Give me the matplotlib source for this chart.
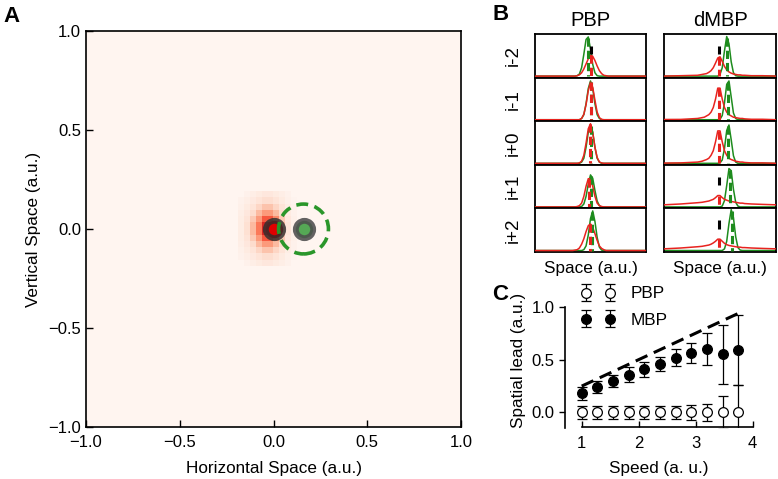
import numpy as np
import matplotlib
matplotlib.use('Agg')
import matplotlib.pyplot as plt
from matplotlib.patches import Ellipse

plt.rcParams['font.family'] = ['Liberation Sans', 'DejaVu Sans']
plt.rcParams['font.size'] = 12

# ---------------- data: panel A ----------------
heat_block = [
    [0.00, 0.02, 0.04, 0.06, 0.08, 0.08, 0.06, 0.04, 0.02, 0.00],
    [0.02, 0.04, 0.07, 0.10, 0.13, 0.13, 0.10, 0.06, 0.03, 0.01],
    [0.03, 0.06, 0.10, 0.16, 0.22, 0.22, 0.16, 0.10, 0.05, 0.02],
    [0.04, 0.08, 0.14, 0.25, 0.35, 0.35, 0.25, 0.14, 0.06, 0.02],
    [0.05, 0.10, 0.20, 0.35, 0.55, 0.55, 0.40, 0.20, 0.08, 0.03],
    [0.05, 0.12, 0.25, 0.45, 0.70, 0.75, 0.55, 0.25, 0.10, 0.03],
    [0.05, 0.12, 0.25, 0.45, 0.70, 0.75, 0.55, 0.25, 0.10, 0.03],
    [0.05, 0.10, 0.20, 0.35, 0.55, 0.55, 0.40, 0.20, 0.08, 0.03],
    [0.04, 0.08, 0.14, 0.25, 0.35, 0.35, 0.25, 0.14, 0.06, 0.02],
    [0.03, 0.06, 0.10, 0.16, 0.22, 0.22, 0.16, 0.10, 0.05, 0.02],
    [0.02, 0.04, 0.07, 0.10, 0.13, 0.13, 0.10, 0.06, 0.03, 0.01],
    [0.00, 0.02, 0.04, 0.06, 0.08, 0.08, 0.06, 0.04, 0.02, 0.00],
]
heat_cells = 64
red_pos = (0.0, 0.0)
green_pos = (0.16, 0.0)
green_radius = 0.133
a_ticks = [-1.0, -0.5, 0.0, 0.5, 1.0]

# ---------------- data: panel B ----------------
rows = ['i-2', 'i-1', 'i+0', 'i+1', 'i+2']
space = [0.00, 0.15, 0.30, 0.34, 0.36, 0.38, 0.40, 0.42, 0.44, 0.46, 0.48, 0.50, 0.52,
         0.54, 0.56, 0.58, 0.60, 0.62, 0.64, 0.66, 0.68, 0.70, 0.72, 0.78, 0.88, 1.00]
pbp_green = [
    [0, 0, 0, 0, 0, .01, .05, .20, .52, .87, .93, .64, .28, .08, .01, 0, 0, 0, 0, 0, 0, 0, 0, 0, 0, 0],
    [0, 0, 0, 0, 0, 0, 0, .03, .12, .38, .74, .92, .74, .38, .12, .03, 0, 0, 0, 0, 0, 0, 0, 0, 0, 0],
    [0, 0, 0, 0, 0, 0, 0, .03, .12, .38, .74, .92, .74, .38, .12, .03, 0, 0, 0, 0, 0, 0, 0, 0, 0, 0],
    [0, 0, 0, 0, 0, 0, 0, .01, .07, .25, .54, .76, .68, .39, .14, .03, 0, 0, 0, 0, 0, 0, 0, 0, 0, 0],
    [0, 0, 0, 0, 0, 0, 0, 0, .02, .11, .37, .76, .94, .69, .31, .08, .01, 0, 0, 0, 0, 0, 0, 0, 0, 0],
]
pbp_red = [
    [0, 0, 0, 0, 0, .01, .03, .08, .17, .29, .41, .49, .47, .37, .24, .13, .06, .02, .01, 0, 0, 0, 0, 0, 0, 0],
    [0, 0, 0, 0, 0, 0, 0, .03, .13, .36, .69, .89, .77, .46, .18, .05, .01, 0, 0, 0, 0, 0, 0, 0, 0, 0],
    [0, 0, 0, 0, 0, 0, .01, .05, .19, .48, .82, .94, .73, .38, .14, .03, .01, 0, 0, 0, 0, 0, 0, 0, 0, 0],
    [0, 0, 0, 0, 0, .01, .03, .09, .25, .49, .67, .67, .49, .25, .09, .03, .01, 0, 0, 0, 0, 0, 0, 0, 0, 0],
    [0, 0, 0, 0, .01, .02, .06, .15, .28, .45, .59, .63, .55, .40, .24, .11, .05, .02, 0, 0, 0, 0, 0, 0, 0, 0],
]
dmbp_green = [
    [0, 0, 0, 0, 0, 0, 0, 0, 0, 0, 0, .04, .20, .60, .94, .77, .34, .08, .01, 0, 0, 0, 0, 0, 0, 0],
    [0, 0, 0, 0, 0, 0, 0, 0, 0, 0, 0, .01, .10, .40, .84, .92, .54, .16, .03, 0, 0, 0, 0, 0, 0, 0],
    [0, 0, 0, 0, 0, 0, 0, 0, 0, 0, 0, .01, .08, .35, .78, .91, .56, .18, .03, 0, 0, 0, 0, 0, 0, 0],
    [0, 0, 0, 0, 0, 0, 0, 0, 0, 0, 0, 0, .02, .15, .51, .91, .86, .42, .11, .02, 0, 0, 0, 0, 0, 0],
    [0, 0, 0, 0, 0, 0, 0, 0, 0, 0, 0, 0, 0, .04, .22, .64, .97, .78, .33, .07, .01, 0, 0, 0, 0, 0],
]
dmbp_red = [
    [0, .01, .02, .04, .05, .06, .09, .13, .20, .31, .43, .46, .35, .23, .15, .10, .07, .05, .04, .03, .03, .02, .02, .01, .01, 0],
    [.005, .007, .03, .05, .06, .09, .12, .18, .29, .49, .75, .75, .49, .29, .18, .12, .09, .06, .05, .04, .03, .03, .02, .01, .01, 0],
    [.005, .01, .03, .05, .07, .09, .12, .19, .30, .51, .77, .77, .51, .30, .19, .12, .09, .07, .05, .04, .03, .03, .02, .01, .01, 0],
    [.05, .07, .10, .11, .12, .13, .14, .16, .18, .22, .27, .27, .22, .18, .16, .14, .13, .12, .11, .10, .09, .09, .08, .07, .06, .05],
    [.04, .06, .09, .10, .11, .12, .13, .15, .18, .22, .27, .27, .22, .17, .14, .12, .11, .10, .09, .08, .08, .07, .07, .06, .05, .04],
]
pbp_green_peak = [0.473, 0.500, 0.500, 0.505, 0.518]
pbp_red_peak = [0.506, 0.503, 0.497, 0.490, 0.497]
dmbp_green_peak = [0.564, 0.573, 0.575, 0.588, 0.603]
dmbp_red_peak = [0.493, 0.490, 0.490, 0.493, 0.493]
pbp_true = [0.506, np.nan, np.nan, np.nan, np.nan]
dmbp_true = [0.493, np.nan, np.nan, 0.493, 0.493]

# ---------------- data: panel C ----------------
speed = [1.0, 1.275, 1.55, 1.825, 2.1, 2.375, 2.65, 2.925, 3.2, 3.475, 3.75]
mbp_lead = [0.18, 0.24, 0.30, 0.36, 0.41, 0.46, 0.52, 0.56, 0.60, 0.55, 0.595]
mbp_err = [0.065, 0.06, 0.06, 0.07, 0.07, 0.07, 0.08, 0.095, 0.15, 0.28, 0.33]
pbp_lead = [0.0, 0.0, 0.0, 0.0, 0.0, 0.0, 0.0, 0.0, 0.0, 0.0, 0.0]
pbp_err = [0.06, 0.06, 0.06, 0.06, 0.06, 0.06, 0.06, 0.075, 0.085, 0.16, 0.26]
ideal_speed = [1.0, 3.75]
ideal_lead = [0.25, 0.94]

# ---------------- layout ----------------
W, H = 778, 479
fig = plt.figure(figsize=(W / 100, H / 100), dpi=100)


def box(l, t, r, b):
    return [l / W, 1 - b / H, (r - l) / W, (b - t) / H]


def ftext(x, y, s, **kw):
    fig.text(x / W, 1 - y / H, s, **kw)


RED = '#e8231f'
GREEN = '#1e8c1e'

# ---------------- panel A ----------------
axA = fig.add_axes(box(86, 31, 461, 427))
grid = np.zeros((heat_cells, heat_cells))
blk = np.array(heat_block)
grid[26:26 + blk.shape[0], 26:26 + blk.shape[1]] = blk
axA.imshow(grid, extent=(-1, 1, -1, 1), origin='upper', cmap='Reds', vmin=0, vmax=1,
           interpolation='nearest', aspect='auto')
axA.plot([red_pos[0]], [red_pos[1]], 'o', ms=12.5, mfc='#e00000',
         mec=(0.18, 0.18, 0.18, 0.82), mew=4.2, zorder=4)
axA.plot([green_pos[0]], [green_pos[1]], 'o', ms=12.5, mfc='#55a855',
         mec=(0.3, 0.3, 0.3, 0.88), mew=4.2, zorder=4)
sx = axA.bbox.width / 2.0
sy = axA.bbox.height / 2.0
circ = Ellipse(green_pos, 2 * green_radius, 2 * green_radius * sx / sy, fill=False,
               ec='#2a962a', lw=2.6, ls=(0, (3.3, 1.8)), zorder=5)
axA.add_patch(circ)
axA.set_xlim(-1, 1)
axA.set_ylim(-1, 1)
axA.set_xticks(a_ticks)
axA.set_yticks(a_ticks)
axA.tick_params(direction='in', length=5, width=1, labelsize=12, top=False, right=False)
axA.tick_params(axis='x', pad=5.5)
for sp in axA.spines.values():
    sp.set_linewidth(1.2)
axA.set_xlabel('Horizontal Space (a.u.)', fontsize=12.3)
axA.xaxis.label.set_va('center')
axA.xaxis.set_label_coords(0.5, -(468 - 427) / 396)
axA.set_ylabel('Vertical Space (a.u.)', fontsize=12.3)
axA.yaxis.label.set_va('center')
axA.yaxis.set_label_coords(-(86 - 34) / 375, 0.5)
ftext(3, 6, 'A', fontsize=16, fontweight='bold', va='top', ha='left')

# ---------------- panel B ----------------
row_tops = [34, 77.6, 121.2, 164.8, 208.4, 252]
cols = [(535, 646, pbp_green, pbp_red, pbp_green_peak, pbp_red_peak, pbp_true, 'PBP'),
        (664, 776, dmbp_green, dmbp_red, dmbp_green_peak, dmbp_red_peak, dmbp_true, 'dMBP')]
dash = (0, (2.7, 1.3))
for ci, (l, r, gs, rs, gp, rp, tp, title) in enumerate(cols):
    for k in range(5):
        ax = fig.add_axes(box(l, row_tops[k], r, row_tops[k + 1]))
        ax.plot(space, gs[k], color=GREEN, lw=1.1, zorder=2)
        ax.plot(space, rs[k], color=RED, lw=1.1, zorder=3)
        ax.plot([gp[k], gp[k]], [max(gs[k]) * 0.97, 0], color=GREEN, lw=2.2, ls=dash,
                solid_capstyle='butt', dash_capstyle='butt', zorder=4)
        if not np.isnan(tp[k]):
            ax.plot([tp[k], tp[k]], [0.52, 0.72], color='k', lw=2.2,
                    solid_capstyle='butt', zorder=4)
        ax.plot([rp[k], rp[k]], [max(rs[k]), 0], color=RED, lw=2.2, ls=dash,
                dash_capstyle='butt', zorder=5)
        ax.set_xlim(0, 1)
        ax.set_ylim(-0.035, 1.0)
        ax.set_xticks([])
        ax.set_yticks([])
        for sp in ax.spines.values():
            sp.set_linewidth(1.3)
        if ci == 0:
            ax.set_ylabel(rows[k], fontsize=13.5)
            ax.yaxis.label.set_va('center')
            ax.yaxis.set_label_coords(-(535 - 513) / 111, 0.5)
    ftext((l + r) / 2, 21, title, fontsize=14.5, ha='center', va='center')
    ftext((l + r) / 2, 268, 'Space (a.u.)', fontsize=12.3, ha='center', va='center')
ftext(492, 4, 'B', fontsize=16, fontweight='bold', va='top', ha='left')

# ---------------- panel C ----------------
axC = fig.add_axes(box(565, 307, 752.7, 428.3))
axC.plot(ideal_speed, ideal_lead, color='k', lw=2.2, ls=(0, (4.2, 2.3)), zorder=2)
h_pbp = axC.errorbar(speed, pbp_lead, yerr=pbp_err, fmt='o', ms=7, mfc='white', mec='k',
                     mew=0.9, color='k', ecolor='k', elinewidth=0.9, capsize=3.5,
                     capthick=0.9, label='PBP', zorder=3)
h_mbp = axC.errorbar(speed, mbp_lead, yerr=mbp_err, fmt='o', ms=7, mfc='k', mec='k',
                     mew=0.9, color='k', ecolor='k', elinewidth=0.9, capsize=3.5,
                     capthick=0.9, label='MBP', zorder=3)
axC.set_xlim(0.707, 4.0)
axC.set_ylim(-0.15, 1.0)
axC.set_xticks([1, 2, 3, 4])
axC.set_yticks([0.0, 0.5, 1.0])
axC.set_yticklabels(['0.0', '0.5', '1.0'])
axC.spines['top'].set_visible(False)
axC.spines['right'].set_visible(False)
axC.spines['bottom'].set_position(('data', -0.133))
axC.spines['bottom'].set_bounds(1, 4)
for sp in axC.spines.values():
    sp.set_linewidth(1.2)
axC.tick_params(axis='x', direction='in', length=4, width=1, labelsize=12, pad=6.5)
axC.tick_params(axis='y', direction='out', length=4, width=1, labelsize=12)
axC.set_xlabel('Speed (a. u.)', fontsize=12.3)
axC.xaxis.label.set_va('center')
axC.xaxis.set_label_coords(0.5, -(468 - 428.3) / 121.3)
axC.set_ylabel('Spatial lead (a.u.)', fontsize=12.3)
axC.yaxis.label.set_va('center')
axC.yaxis.set_label_coords(-(565 - 518) / 187.7, (428.3 - 360) / 121.3)
axC.legend(handles=[h_pbp, h_mbp], numpoints=2, frameon=False, loc='upper left',
           bbox_to_anchor=(580.7 / W, 1 - 286.5 / H), bbox_transform=fig.transFigure,
           borderaxespad=0, borderpad=0, handlelength=2.0, handletextpad=0.95,
           labelspacing=0.65, fontsize=12.3)
ftext(492, 284, 'C', fontsize=16, fontweight='bold', va='top', ha='left')

fig.savefig('out.png', dpi=100)
